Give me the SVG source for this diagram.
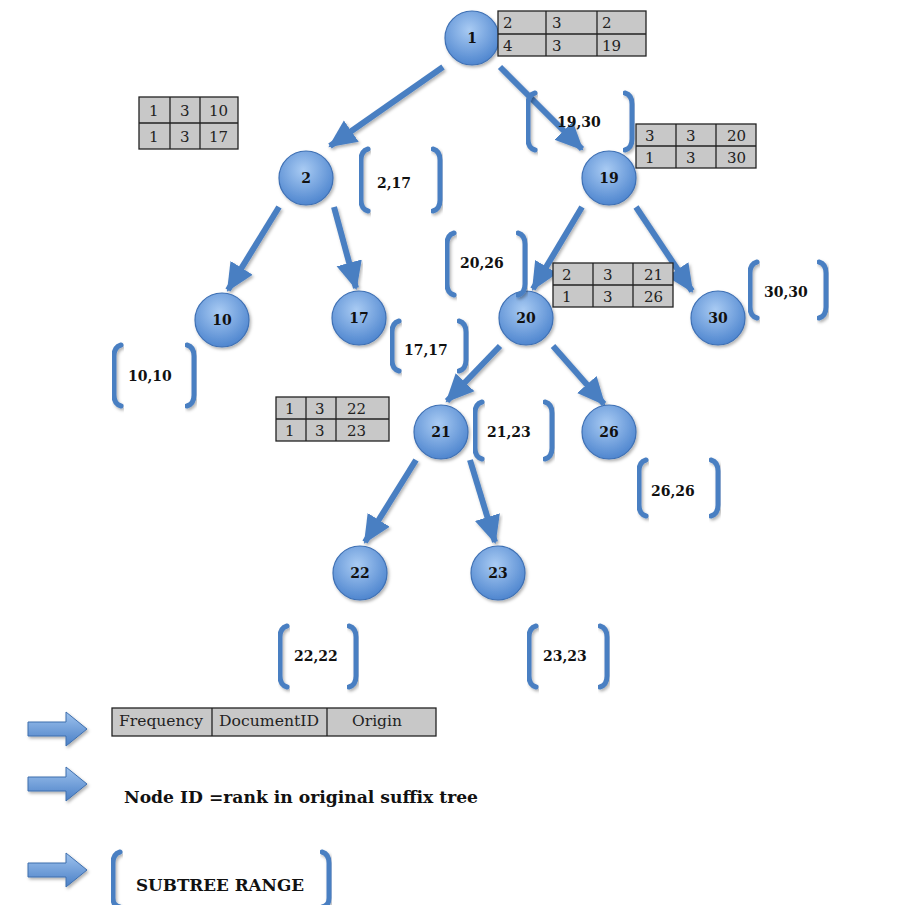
<svg xmlns="http://www.w3.org/2000/svg" width="904" height="905" viewBox="0 0 904 905">
<defs>
<radialGradient id="ng" cx="0.45" cy="0.35" r="0.65">
<stop offset="0" stop-color="#a9cbf3"/>
<stop offset="1" stop-color="#4f86cf"/>
</radialGradient>
<linearGradient id="ag" x1="0" y1="0" x2="0" y2="1">
<stop offset="0" stop-color="#9fc3ee"/>
<stop offset="1" stop-color="#4a7fc6"/>
</linearGradient>
<filter id="sh" x="-20%" y="-20%" width="150%" height="150%">
<feDropShadow dx="1.5" dy="2" stdDeviation="1.5" flood-color="#000" flood-opacity="0.3"/>
</filter>
<marker id="ah" markerUnits="userSpaceOnUse" markerWidth="30" markerHeight="30" viewBox="0 0 30 30" refX="26" refY="15" orient="auto">
<path d="M0,2 L28,15 L0,28 Z" fill="#4a7fc2"/>
</marker>
</defs>
<style>
.node circle{fill:url(#ng);stroke:#3e70b4;stroke-width:1.2;filter:url(#sh)}
.node text{font-family:"DejaVu Serif",serif;font-weight:bold;font-size:14px;fill:#111;text-anchor:middle}
.edge{stroke:#4a7fc2;stroke-width:6;fill:none;marker-end:url(#ah);filter:url(#sh)}
.tb rect{fill:#c8c8c8;stroke:#222;stroke-width:1.3}
.tb line{stroke:#222;stroke-width:1.3}
.tb text{font-family:"DejaVu Serif",serif;font-size:15px;fill:#222}
.br path{stroke:#4a7fc2;stroke-width:5;fill:none;stroke-linecap:round;filter:url(#sh)}
.br text{font-family:"DejaVu Serif",serif;font-weight:bold;font-size:14px;fill:#111}
.la{fill:url(#ag);stroke:#3e6fae;stroke-width:1;filter:url(#sh)}
.lt{font-family:"DejaVu Serif",serif;font-weight:bold;font-size:16px;fill:#111}
</style>

<g id="connectors">
<line class="edge" x1="443" y1="67" x2="330" y2="146"/>
<line class="edge" x1="500" y1="67" x2="582" y2="149"/>
<line class="edge" x1="279" y1="207" x2="228" y2="290"/>
<line class="edge" x1="334" y1="207" x2="356" y2="288"/>
<line class="edge" x1="582" y1="207" x2="533" y2="289"/>
<line class="edge" x1="636" y1="207" x2="692" y2="291"/>
<line class="edge" x1="500" y1="346" x2="447" y2="401"/>
<line class="edge" x1="553" y1="346" x2="604" y2="404"/>
<line class="edge" x1="416" y1="460" x2="365" y2="542"/>
<line class="edge" x1="470" y1="460" x2="495" y2="542"/>
</g>

<g id="node-1" class="node"><circle cx="472" cy="38" r="27"/><text x="472" y="43">1</text></g>
<g id="node-2" class="node"><circle cx="306" cy="178" r="27"/><text x="306" y="183">2</text></g>
<g id="node-19" class="node"><circle cx="609" cy="178" r="27"/><text x="609" y="183">19</text></g>
<g id="node-10" class="node"><circle cx="222" cy="320" r="27"/><text x="222" y="325">10</text></g>
<g id="node-17" class="node"><circle cx="359" cy="318" r="27"/><text x="359" y="323">17</text></g>
<g id="node-20" class="node"><circle cx="526" cy="318" r="27"/><text x="526" y="323">20</text></g>
<g id="node-30" class="node"><circle cx="718" cy="318" r="27"/><text x="718" y="323">30</text></g>
<g id="node-21" class="node"><circle cx="441" cy="432" r="27"/><text x="441" y="437">21</text></g>
<g id="node-26" class="node"><circle cx="609" cy="432" r="27"/><text x="609" y="437">26</text></g>
<g id="node-22" class="node"><circle cx="360" cy="573" r="27"/><text x="360" y="578">22</text></g>
<g id="node-23" class="node"><circle cx="498" cy="573" r="27"/><text x="498" y="578">23</text></g>

<g id="table-1" class="tb">
<rect x="498" y="11" width="148" height="45"/>
<line x1="498" y1="34" x2="646" y2="34"/><line x1="546" y1="11" x2="546" y2="56"/><line x1="597" y1="11" x2="597" y2="56"/>
<text x="503" y="28">2</text><text x="552" y="28">3</text><text x="602" y="28">2</text>
<text x="503" y="51">4</text><text x="552" y="51">3</text><text x="602" y="51">19</text>
</g>
<g id="table-2" class="tb">
<rect x="139" y="97" width="99" height="52"/>
<line x1="139" y1="123" x2="238" y2="123"/><line x1="170" y1="97" x2="170" y2="149"/><line x1="200" y1="97" x2="200" y2="149"/>
<text x="149" y="116">1</text><text x="180" y="116">3</text><text x="209" y="116">10</text>
<text x="149" y="142">1</text><text x="180" y="142">3</text><text x="209" y="142">17</text>
</g>
<g id="table-19" class="tb">
<rect x="636" y="124" width="120" height="44"/>
<line x1="636" y1="146" x2="756" y2="146"/><line x1="676" y1="124" x2="676" y2="168"/><line x1="716" y1="124" x2="716" y2="168"/>
<text x="645" y="141">3</text><text x="686" y="141">3</text><text x="727" y="141">20</text>
<text x="645" y="163">1</text><text x="686" y="163">3</text><text x="727" y="163">30</text>
</g>
<g id="table-20" class="tb">
<rect x="553" y="263" width="120" height="44"/>
<line x1="553" y1="285" x2="673" y2="285"/><line x1="593" y1="263" x2="593" y2="307"/><line x1="633" y1="263" x2="633" y2="307"/>
<text x="562" y="280">2</text><text x="603" y="280">3</text><text x="644" y="280">21</text>
<text x="562" y="302">1</text><text x="603" y="302">3</text><text x="644" y="302">26</text>
</g>
<g id="table-21" class="tb">
<rect x="276" y="397" width="113" height="44"/>
<line x1="276" y1="419" x2="389" y2="419"/><line x1="306" y1="397" x2="306" y2="441"/><line x1="336" y1="397" x2="336" y2="441"/>
<text x="285" y="414">1</text><text x="315" y="414">3</text><text x="347" y="414">22</text>
<text x="285" y="436">1</text><text x="315" y="436">3</text><text x="347" y="436">23</text>
</g>

<g id="range-2" class="br">
<path d="M368,149 Q361,151 361,160 L361,200 Q361,209 368,211"/>
<path d="M433,149 Q440,151 440,160 L440,200 Q440,209 433,211"/>
<text x="377" y="188">2,17</text>
</g>
<g id="range-19" class="br">
<path d="M535,93 Q528,95 528,104 L528,139 Q528,148 535,150"/>
<path d="M625,93 Q632,95 632,104 L632,139 Q632,148 625,150"/>
<text x="557" y="127">19,30</text>
</g>
<g id="range-20" class="br">
<path d="M454,233 Q447,235 447,244 L447,284 Q447,293 454,295"/>
<path d="M518,233 Q525,235 525,244 L525,284 Q525,293 518,295"/>
<text x="460" y="268">20,26</text>
</g>
<g id="range-30" class="br">
<path d="M757,262 Q750,264 750,273 L750,307 Q750,316 757,318"/>
<path d="M819,262 Q826,264 826,273 L826,307 Q826,316 819,318"/>
<text x="764" y="297">30,30</text>
</g>
<g id="range-10" class="br">
<path d="M121,345 Q114,347 114,356 L114,395 Q114,404 121,406"/>
<path d="M187,345 Q194,347 194,356 L194,395 Q194,404 187,406"/>
<text x="128" y="381">10,10</text>
</g>
<g id="range-17" class="br">
<path d="M399,321 Q392,323 392,332 L392,360 Q392,369 399,371"/>
<path d="M459,321 Q466,323 466,332 L466,360 Q466,369 459,371"/>
<text x="404" y="355">17,17</text>
</g>
<g id="range-21" class="br">
<path d="M482,402 Q475,404 475,413 L475,448 Q475,457 482,459"/>
<path d="M545,402 Q552,404 552,413 L552,448 Q552,457 545,459"/>
<text x="487" y="437">21,23</text>
</g>
<g id="range-26" class="br">
<path d="M646,460 Q639,462 639,471 L639,505 Q639,514 646,516"/>
<path d="M711,460 Q718,462 718,471 L718,505 Q718,514 711,516"/>
<text x="651" y="496">26,26</text>
</g>
<g id="range-22" class="br">
<path d="M287,626 Q280,628 280,637 L280,676 Q280,685 287,687"/>
<path d="M349,626 Q356,628 356,637 L356,676 Q356,685 349,687"/>
<text x="294" y="661">22,22</text>
</g>
<g id="range-23" class="br">
<path d="M536,626 Q529,628 529,637 L529,676 Q529,685 536,687"/>
<path d="M600,626 Q607,628 607,637 L607,676 Q607,685 600,687"/>
<text x="543" y="661">23,23</text>
</g>

<g id="legend-1">
<path class="la" d="M28,722 L66,722 L66,712 L87,729 L66,746 L66,736 L28,736 Z"/>
<g class="tb">
<rect x="112" y="708" width="324" height="28"/>
<line x1="212" y1="708" x2="212" y2="736"/><line x1="327" y1="708" x2="327" y2="736"/>
<text x="119" y="726" textLength="84" lengthAdjust="spacingAndGlyphs">Frequency</text><text x="219" y="726" textLength="100" lengthAdjust="spacingAndGlyphs">DocumentID</text><text x="352" y="726" textLength="50" lengthAdjust="spacingAndGlyphs">Origin</text>
</g>
</g>
<g id="legend-2">
<path class="la" d="M28,777 L66,777 L66,767 L87,784 L66,801 L66,791 L28,791 Z"/>
<text class="lt" x="124" y="803" textLength="354" lengthAdjust="spacingAndGlyphs">Node ID =rank in original suffix tree</text>
</g>
<g id="legend-3">
<path class="la" d="M28,863 L66,863 L66,853 L87,870 L66,887 L66,877 L28,877 Z"/>
<g class="br">
<path d="M120,852 Q113,854 113,863 L113,898 Q113,906 120,907"/>
<path d="M322,852 Q329,854 329,863 L329,898 Q329,906 322,907"/>
<text x="136" y="891" textLength="168" lengthAdjust="spacingAndGlyphs" style="font-size:16px">SUBTREE RANGE</text>
</g>
</g>
</svg>
